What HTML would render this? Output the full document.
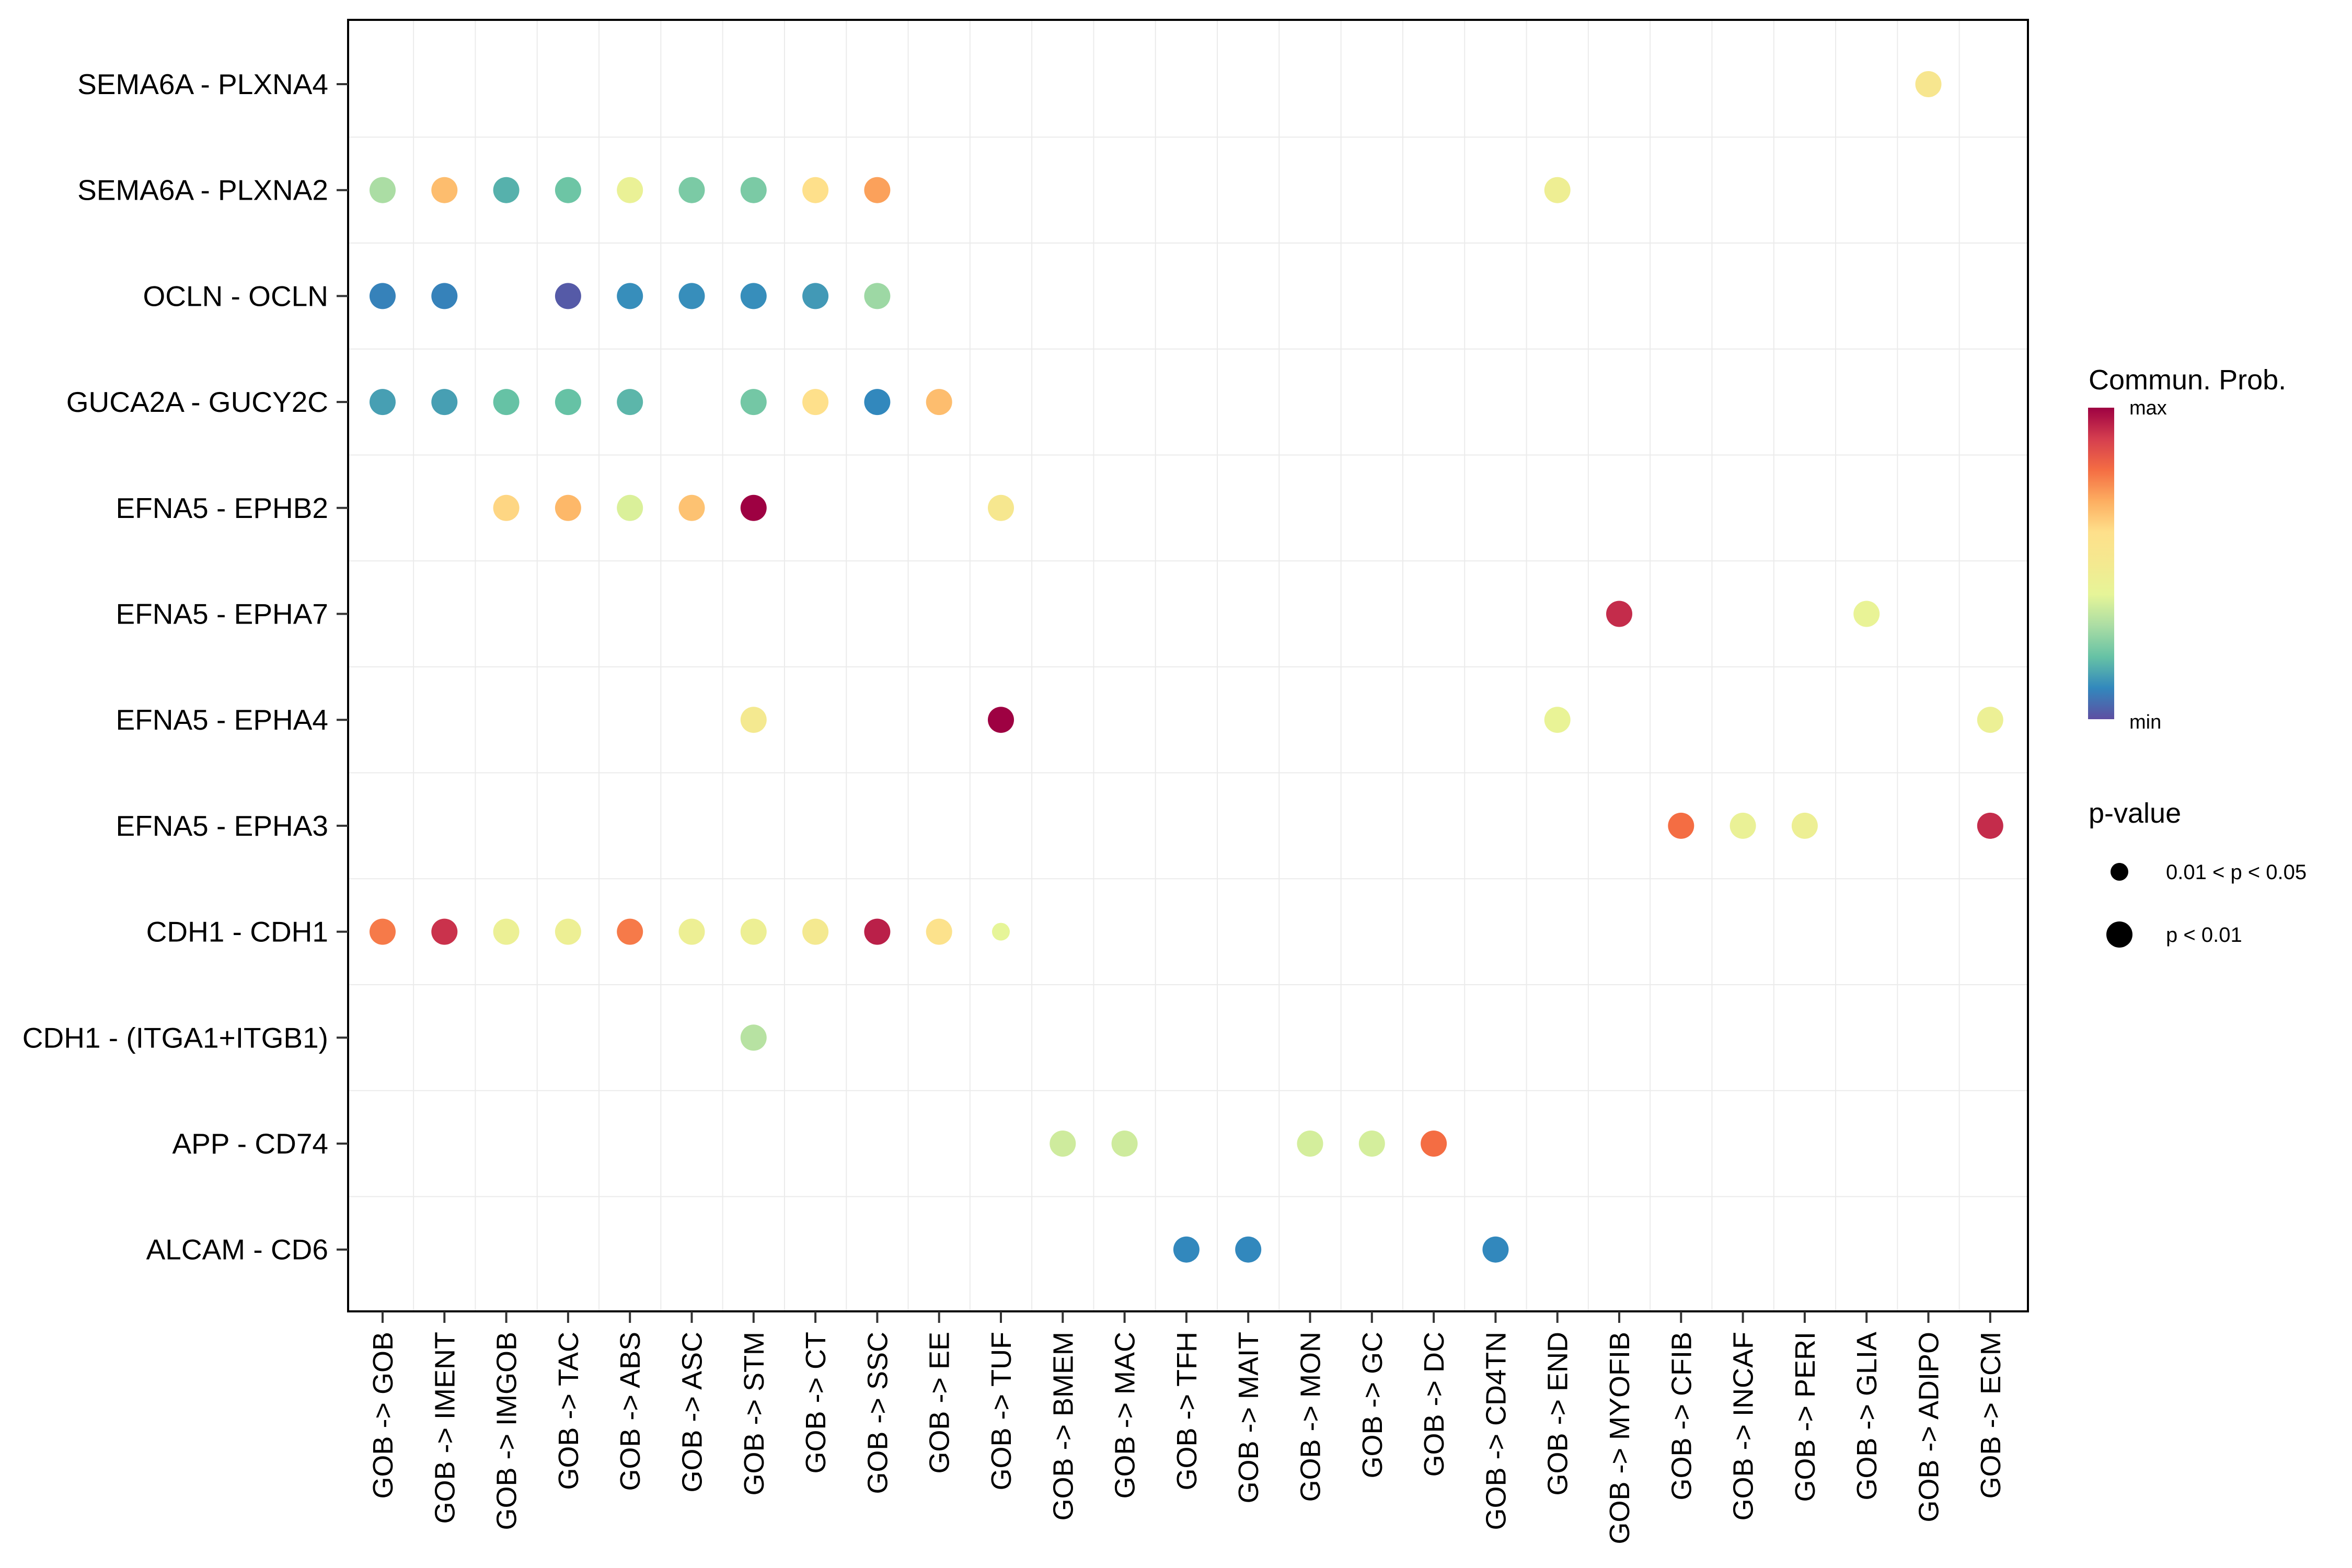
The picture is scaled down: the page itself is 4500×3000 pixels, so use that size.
<!DOCTYPE html>
<html><head><meta charset="utf-8"><style>
html,body{margin:0;padding:0;background:#fff;}
svg{display:block;font-family:"Liberation Sans",Arial,sans-serif;}
</style></head><body>
<svg id="chart" width="4500" height="3000" viewBox="0 0 4500 3000" xmlns="http://www.w3.org/2000/svg">
<rect width="4500" height="3000" fill="#fff"/>
<g id="grid"></g><g id="dots"></g>
<rect x="666" y="38" width="3214" height="2471" fill="none" stroke="#000" stroke-width="4"/>
<g id="yaxis"></g><g id="xaxis"></g>
<defs><linearGradient id="spec" x1="0" y1="1" x2="0" y2="0">
<stop offset="0" stop-color="#5E4FA2"/><stop offset="0.1" stop-color="#3288BD"/><stop offset="0.2" stop-color="#66C2A5"/><stop offset="0.3" stop-color="#ABDDA4"/><stop offset="0.4" stop-color="#E6F598"/><stop offset="0.5" stop-color="#F4E990" /><stop offset="0.6" stop-color="#FEE08B"/><stop offset="0.7" stop-color="#FDAE61"/><stop offset="0.8" stop-color="#F46D43"/><stop offset="0.9" stop-color="#D53E4F"/><stop offset="1" stop-color="#9E0142"/></linearGradient></defs>
<g>
<text x="3996" y="745" font-size="54">Commun. Prob.</text>
<rect x="3995" y="780" width="50" height="596" fill="url(#spec)"/>
<text x="4074" y="793" font-size="38">max</text>
<text x="4074" y="1394" font-size="38">min</text>
</g>
<g>
<text x="3996" y="1574" font-size="54">p-value</text>
<circle cx="4055" cy="1668" r="17" fill="#000"/>
<text x="4144" y="1682" font-size="40">0.01 &lt; p &lt; 0.05</text>
<circle cx="4055" cy="1788" r="25" fill="#000"/>
<text x="4144" y="1802" font-size="40">p &lt; 0.01</text>
</g>
</svg>
<script>
const rowLabels=["SEMA6A - PLXNA4","SEMA6A - PLXNA2","OCLN - OCLN","GUCA2A - GUCY2C","EFNA5 - EPHB2","EFNA5 - EPHA7","EFNA5 - EPHA4","EFNA5 - EPHA3","CDH1 - CDH1","CDH1 - (ITGA1+ITGB1)","APP - CD74","ALCAM - CD6"];
const colLabels=["GOB","IMENT","IMGOB","TAC","ABS","ASC","STM","CT","SSC","EE","TUF","BMEM","MAC","TFH","MAIT","MON","GC","DC","CD4TN","END","MYOFIB","CFIB","INCAF","PERI","GLIA","ADIPO","ECM"].map(c=>"GOB -> "+c);
const pointRow=[0, 1,1,1,1,1,1,1,1,1,1, 2,2,2,2,2,2,2,2, 3,3,3,3,3,3,3,3,3, 4,4,4,4,4,4, 5,5, 6,6,6,6, 7,7,7,7, 8,8,8,8,8,8,8,8,8,8,8, 9, 10,10,10,10,10, 11,11,11];
const pointCol=[25, 0,1,2,3,4,5,6,7,8,19, 0,1,3,4,5,6,7,8, 0,1,2,3,4,6,7,8,9, 2,3,4,5,6,10, 20,24, 6,10,19,26, 21,22,23,26, 0,1,2,3,4,5,6,7,8,9,10, 6, 11,12,15,16,17, 13,14,18];
const pointProb=[0.53, 0.3,0.67,0.17,0.21,0.43,0.23,0.23,0.6,0.72,0.46, 0.09,0.09,0.02,0.11,0.11,0.11,0.13,0.28, 0.14,0.14,0.2,0.2,0.18,0.22,0.6,0.1,0.67, 0.62,0.68,0.38,0.66,1.0,0.52, 0.93,0.42, 0.5,1.0,0.42,0.44, 0.8,0.43,0.45,0.93, 0.78,0.92,0.44,0.45,0.78,0.45,0.45,0.5,0.95,0.58,0.4, 0.32, 0.36,0.36,0.37,0.37,0.8, 0.1,0.1,0.1];
const pointSig=pointRow.map((r,i)=> (r===8&&pointCol[i]===10)?0:1);
const X0=732,DX=118.3,Y0=161,DY=202.7;
const xs=i=>X0+i*DX, ys=i=>Y0+i*DY;
const stops=["#5E4FA2","#3288BD","#66C2A5","#ABDDA4","#E6F598","#F4E990","#FEE08B","#FDAE61","#F46D43","#D53E4F","#9E0142"];
function col(v){v=Math.max(0,Math.min(1,v));const t=v*10,i=Math.min(9,Math.floor(t)),f=t-i;
const a=stops[i],b=stops[i+1];const h=(s,k)=>parseInt(s.substr(1+2*k,2),16);
let o="rgb(";for(let k=0;k<3;k++){o+=Math.round(h(a,k)+(h(b,k)-h(a,k))*f)+(k<2?",":")");}return o;}
const NS="http://www.w3.org/2000/svg";
function mk(t,p,a){const e=document.createElementNS(NS,t);for(const k in a)e.setAttribute(k,a[k]);p.appendChild(e);return e;}
const g=document.getElementById("grid"),d=document.getElementById("dots"),ya=document.getElementById("yaxis"),xa=document.getElementById("xaxis");
for(let i=0;i<colLabels.length-1;i++){const l=mk("line",g,{x1:xs(i+0.5),x2:xs(i+0.5),y1:38,y2:2509,stroke:"#EBEBEB","stroke-width":2});

}
for(let i=0;i<rowLabels.length-1;i++){const l=mk("line",g,{x1:666,x2:3880,y1:ys(i+0.5),y2:ys(i+0.5),stroke:"#EBEBEB","stroke-width":2});

}
rowLabels.forEach((r,i)=>{const y=ys(i);
const t=mk("line",ya,{x1:644,x2:666,y1:y,y2:y,stroke:"#333","stroke-width":4});


const tx=mk("text",ya,{x:628,y:y+19,"font-size":55,"text-anchor":"end",fill:"#000"});tx.textContent=r;

});
colLabels.forEach((c,i)=>{const x=xs(i);
const t=mk("line",xa,{x1:x,x2:x,y1:2509,y2:2531,stroke:"#333","stroke-width":4});


const tx=mk("text",xa,{x:0,y:0,"font-size":54,"text-anchor":"end",fill:"#000",transform:`translate(${x+19},2548) rotate(-90)`});tx.textContent=c;

});
pointRow.forEach((r,i)=>{const c=mk("circle",d,{cx:xs(pointCol[i]),cy:ys(r),r:pointSig[i]?25:17,fill:col(pointProb[i])});

});
</script>
</body></html>
